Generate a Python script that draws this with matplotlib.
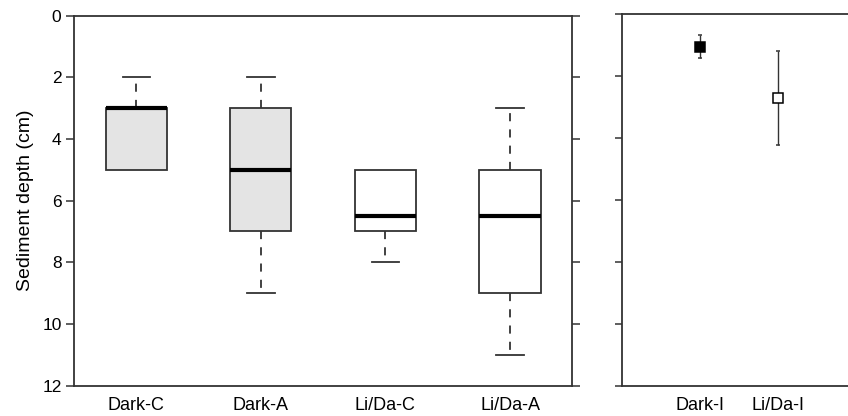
import matplotlib
matplotlib.use("Agg")
import matplotlib.pyplot as plt

plt.rcParams['font.family'] = ['Liberation Sans', 'DejaVu Sans']

# Box plot data (sediment depth, cm)
categories = ["Dark-C", "Dark-A", "Li/Da-C", "Li/Da-A"]
whisker_low = [2, 2, 5, 3]      # shallow whisker end
q1 = [3, 3, 5, 5]
median = [3, 5, 6.5, 6.5]
q3 = [5, 7, 7, 9]
whisker_high = [5, 9, 8, 11]    # deep whisker end
box_fill = ["#e4e4e4", "#e4e4e4", "white", "white"]

# Point/error data
point_labels = ["Dark-I", "Li/Da-I"]
point_mean = [1.05, 2.7]
point_err = [0.38, 1.52]
point_face = ["black", "white"]

yticks = [0, 2, 4, 6, 8, 10, 12]

fig = plt.figure(figsize=(8.48, 4.16), dpi=100)
edge = "#333333"

ax1 = fig.add_axes([74/848, 1 - 385.7/416, (572.3 - 74)/848, (385.7 - 15.5)/416])
stats = []
for i, c in enumerate(categories):
    stats.append(dict(label=c, med=median[i], q1=q1[i], q3=q3[i],
                      whislo=whisker_low[i], whishi=whisker_high[i], fliers=[]))
pos = list(range(1, len(categories) + 1))
bp = ax1.bxp(stats, positions=pos, widths=0.49, patch_artist=True,
             showfliers=False,
             boxprops=dict(edgecolor=edge, linewidth=1.3),
             medianprops=dict(color="black", linewidth=3, solid_capstyle="butt"),
             whiskerprops=dict(color=edge, linewidth=1.3, linestyle=(0, (4.5, 4.5))),
             capprops=dict(color=edge, linewidth=1.3),
             capwidths=0.22)
for patch, fc in zip(bp['boxes'], box_fill):
    patch.set_facecolor(fc)
# hide zero-length whiskers/caps
for i in range(len(categories)):
    if whisker_low[i] == q1[i]:
        bp['whiskers'][2*i].set_visible(False)
        bp['caps'][2*i].set_visible(False)
    if whisker_high[i] == q3[i]:
        bp['whiskers'][2*i+1].set_visible(False)
        bp['caps'][2*i+1].set_visible(False)

ax1.set_xlim(0.5, 4.5)
ax1.set_ylim(12, 0)
ax1.set_yticks(yticks)
ax1.set_ylabel("Sediment depth (cm)", fontsize=14, labelpad=6)
ax1.tick_params(axis='y', which='both', direction='out', length=6, width=1.1,
                color=edge, labelsize=12.5, right=True, labelright=False, pad=3)
ax1.tick_params(axis='x', length=0, labelsize=13, pad=8)

ax2 = fig.add_axes([621.7/848, 1 - 385.7/416, (856 - 621.7)/848, (385.7 - 14)/416])
xp = list(range(1, len(point_labels) + 1))
for i in range(len(point_labels)):
    ax2.errorbar(xp[i], point_mean[i], yerr=point_err[i], fmt='s', color=edge,
                 markerfacecolor=point_face[i], markeredgecolor="black",
                 markersize=7, markeredgewidth=1.1, elinewidth=1.0,
                 capsize=1.5, capthick=1.0)
ax2.set_xlim(0, 3)
ax2.set_ylim(12, 0)
ax2.set_yticks(yticks)
ax2.set_yticklabels([])
ax2.set_xticks(xp)
ax2.set_xticklabels(point_labels)
ax2.tick_params(axis='y', direction='out', length=5, width=1.1, color=edge)
ax2.tick_params(axis='x', length=0, labelsize=13, pad=8)

for ax in (ax1, ax2):
    for s in ax.spines.values():
        s.set_color(edge)
        s.set_linewidth(1.3)
ax2.spines['right'].set_visible(False)

fig.savefig("out.png", dpi=100)
